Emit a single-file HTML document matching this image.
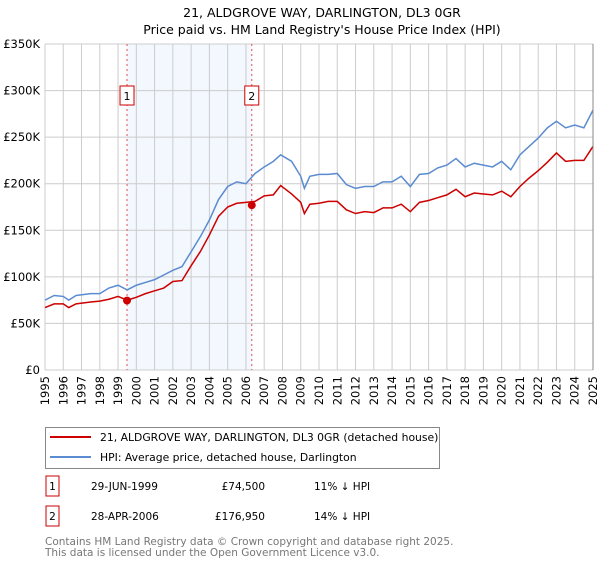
<!DOCTYPE html>
<html><head><meta charset="utf-8"><style>
body{margin:0;background:#fff;font-family:"DejaVu Sans","Liberation Sans",sans-serif;}
svg text{font-family:"DejaVu Sans","Liberation Sans",sans-serif;}
</style></head><body>
<svg id="chart" width="600" height="560" xmlns="http://www.w3.org/2000/svg">
<text x="322" y="17" font-size="12.5" text-anchor="middle">21, ALDGROVE WAY, DARLINGTON, DL3 0GR</text>
<text x="322" y="34" font-size="12.5" text-anchor="middle">Price paid vs. HM Land Registry's House Price Index (HPI)</text>
<g id="plot"></g>
<rect x="45.5" y="427.5" width="394" height="41" fill="#fff" stroke="#888"/>
<line x1="50" y1="437" x2="91" y2="437" stroke="#cc0000" stroke-width="2"/>
<text x="100" y="441" font-size="10.8">21, ALDGROVE WAY, DARLINGTON, DL3 0GR (detached house)</text>
<line x1="50" y1="457" x2="91" y2="457" stroke="#5b8bd0" stroke-width="2"/>
<text x="100" y="461" font-size="10.8">HPI: Average price, detached house, Darlington</text>
<g font-size="10.5">
<rect x="46" y="476" width="13" height="20" fill="#fff" stroke="#cc0000"/>
<text x="52.5" y="490" text-anchor="middle">1</text>
<text x="91" y="490">29-JUN-1999</text>
<text x="265" y="490" text-anchor="end">£74,500</text>
<text x="314" y="490">11% ↓ HPI</text>
<rect x="46" y="506" width="13" height="20" fill="#fff" stroke="#cc0000"/>
<text x="52.5" y="520" text-anchor="middle">2</text>
<text x="91" y="520">28-APR-2006</text>
<text x="265" y="520" text-anchor="end">£176,950</text>
<text x="314" y="520">14% ↓ HPI</text>
</g>
<text x="45" y="545" font-size="10.5" fill="#777">Contains HM Land Registry data © Crown copyright and database right 2025.</text>
<text x="45" y="556" font-size="10.5" fill="#777">This data is licensed under the Open Government Licence v3.0.</text>
</svg>
<script>
const hpiYears=[1995,1995.5,1996,1996.3,1996.7,1997.5,1998,1998.5,1999,1999.5,2000,2000.5,2001,2001.5,2002,2002.5,2003,2003.5,2004,2004.5,2005,2005.5,2006,2006.5,2007,2007.5,2007.9,2008.5,2009,2009.2,2009.5,2010,2010.5,2011,2011.5,2012,2012.5,2013,2013.5,2014,2014.5,2015,2015.5,2016,2016.5,2017,2017.5,2018,2018.5,2019,2019.5,2020,2020.5,2021,2021.5,2022,2022.5,2023,2023.5,2024,2024.5,2025];
const hpiValues=[75,80,79,75,80,82,82,88,91,86,91,94,97,102,107,111,127,143,161,183,197,202,200,211,218,224,231,224,208,195,208,210,210,211,199,195,197,197,202,202,208,197,210,211,217,220,227,218,222,220,218,224,215,231,240,249,260,267,260,263,260,279];
const propValues=[67,71,71,67,71,73,74,76,79,75,78,82,85,88,95,96,112,127,145,165,175,179,180,181,187,188,198,189,180,168,178,179,181,181,172,168,170,169,174,174,178,170,180,182,185,188,194,186,190,189,188,192,186,197,206,214,223,233,224,225,225,240];
const saleYears=[1999.49,2006.32];
const saleValues=[74.5,176.95];
const saleLabels=["1","2"];
const yTicks=[0,50,100,150,200,250,300,350];
const yTickLabels=["£0","£50K","£100K","£150K","£200K","£250K","£300K","£350K"];
const xTicks=[1995,1996,1997,1998,1999,2000,2001,2002,2003,2004,2005,2006,2007,2008,2009,2010,2011,2012,2013,2014,2015,2016,2017,2018,2019,2020,2021,2022,2023,2024,2025];

const NS="http://www.w3.org/2000/svg";
const g=document.getElementById('plot');
const X0=45,X1=593,Y0=370,Y1=44;
const sx=v=>X0+(v-1995)/30*(X1-X0);
const sy=v=>Y0-v/350*(Y0-Y1);
function mk(tag,attrs){const e=document.createElementNS(NS,tag);for(const k in attrs)e.setAttribute(k,attrs[k]);g.appendChild(e);return e;}
const shade=mk('rect',{x:sx(saleYears[0]),y:Y1,width:sx(saleYears[1])-sx(saleYears[0]),height:Y0-Y1,fill:'#eef3fd',opacity:0.7});


yTicks.forEach((t,i)=>{
  const l=mk('line',{x1:X0,x2:X1,y1:sy(t),y2:sy(t),stroke:'#cccccc','stroke-width':1});
  
  
  const tx=mk('text',{x:X0-5,y:sy(t)+4,'font-size':11.5,'text-anchor':'end'});
  tx.textContent=yTickLabels[i];
  
  
});
xTicks.forEach(t=>{
  const l=mk('line',{x1:sx(t),x2:sx(t),y1:Y1,y2:Y0,stroke:'#cccccc','stroke-width':1});
  
  
  const tx=mk('text',{x:0,y:0,'font-size':11.5,'text-anchor':'end',transform:`translate(${sx(t)+4},${Y0+6}) rotate(-90)`});
  tx.textContent=t;
  
  
});
saleYears.forEach((y,i)=>{
  const l=mk('line',{x1:sx(y),x2:sx(y),y1:Y1,y2:Y0,stroke:'#e05050','stroke-width':1,'stroke-dasharray':'2,3'});
  
  
  const r=mk('rect',{x:sx(y)-7,y:86,width:14,height:19,fill:'#fff',stroke:'#cc0000'});
  
  
  const tx=mk('text',{x:sx(y),y:100,'font-size':11,'text-anchor':'middle'});
  tx.textContent=saleLabels[i];
  
  
});
const hp=mk('polyline',{points:hpiYears.map((y,i)=>sx(y)+','+sy(hpiValues[i])).join(' '),fill:'none',stroke:'#5b8bd0','stroke-width':1.5});


const pp=mk('polyline',{points:hpiYears.map((y,i)=>sx(y)+','+sy(propValues[i])).join(' '),fill:'none',stroke:'#cc0000','stroke-width':1.5});


saleYears.forEach((y,i)=>{
  const c=mk('circle',{cx:sx(y),cy:sy(saleValues[i]),r:4,fill:'#cc0000'});
  
  
});
const ax=mk('line',{x1:X1,x2:X1,y1:Y1,y2:Y0,stroke:'#888','stroke-width':1});


</script>
</body></html>
